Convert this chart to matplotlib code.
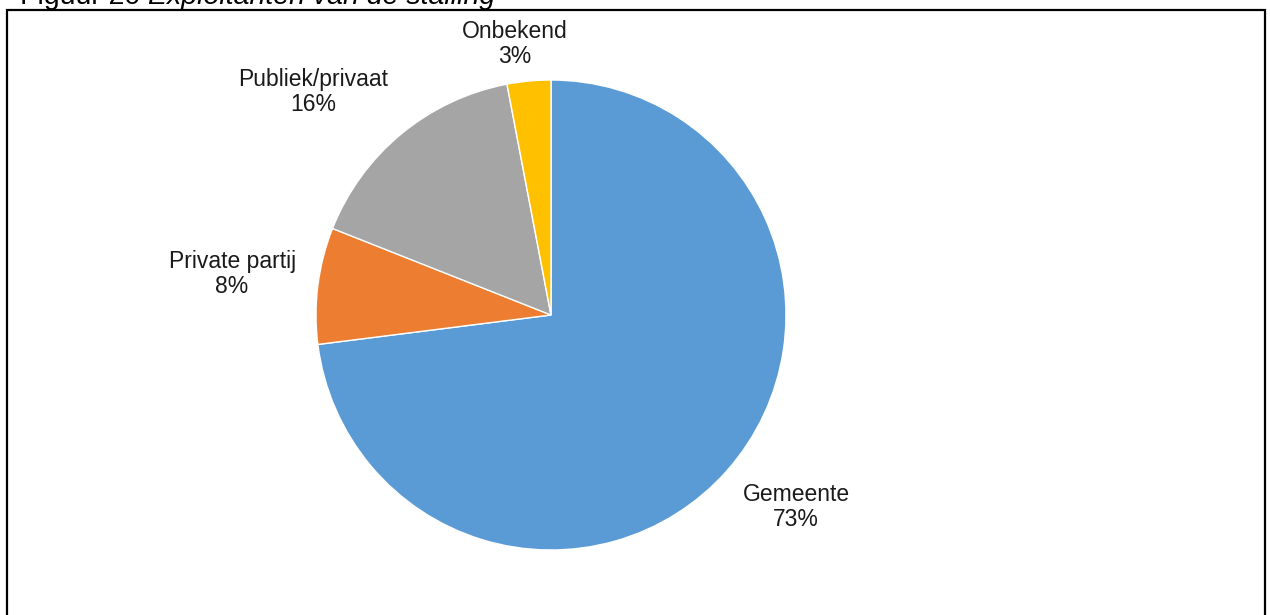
import matplotlib
matplotlib.use("Agg")
import matplotlib.pyplot as plt
from matplotlib.patches import Rectangle

# ---------- Data ----------

categories = ["Gemeente", "Private partij", "Publiek/privaat", "Onbekend"]
shares = [73, 8, 16, 3]
colors = ["#5B9BD5", "#ED7D31", "#A5A5A5", "#FFC000"]

# label anchors in pie units (radius = 1)
label_xy = [(1.043, -0.817), (-1.357, 0.174), (-1.013, 0.949), (-0.153, 1.153)]

plt.rcParams["font.family"] = ["Liberation Sans", "DejaVu Sans"]

W, H = 1270, 615

fig = plt.figure(figsize=(W / 100, H / 100), dpi=100)

# frame around the chart area
fig.patches.append(Rectangle((7 / W, -0.1), 1258 / W, (H - 10) / H + 0.1,
                             transform=fig.transFigure, fill=False,
                             edgecolor="black", linewidth=1.6))

# caption, cut by the top edge
t1 = fig.text(20 / W, 1 - 4 / H, "Figuur 20 ", fontsize=20.5, va="baseline")
fig.canvas.draw()
bb = t1.get_window_extent()
fig.text(bb.x1 / W, 1 - 4 / H, "Exploitanten van de stalling", fontsize=20.5,
         style="italic", va="baseline")

cx, cy, r = 551, 315, 235
ax = fig.add_axes([(cx - r) / W, (H - cy - r) / H, 2 * r / W, 2 * r / H])
wedges, _ = ax.pie(shares, colors=colors, startangle=90, counterclock=False,
                   wedgeprops=dict(edgecolor="white", linewidth=1.0))
ax.set_xlim(-1, 1)
ax.set_ylim(-1, 1)
ax.set_aspect("equal")
ax.axis("off")

for (lx, ly), name, val in zip(label_xy, categories, shares):
    ax.text(lx, ly, f"{name}\n{val}%", ha="center", va="center",
            fontsize=16.5, linespacing=1.1, color="#1a1a1a", clip_on=False)

fig.savefig("out.png", dpi=100)
